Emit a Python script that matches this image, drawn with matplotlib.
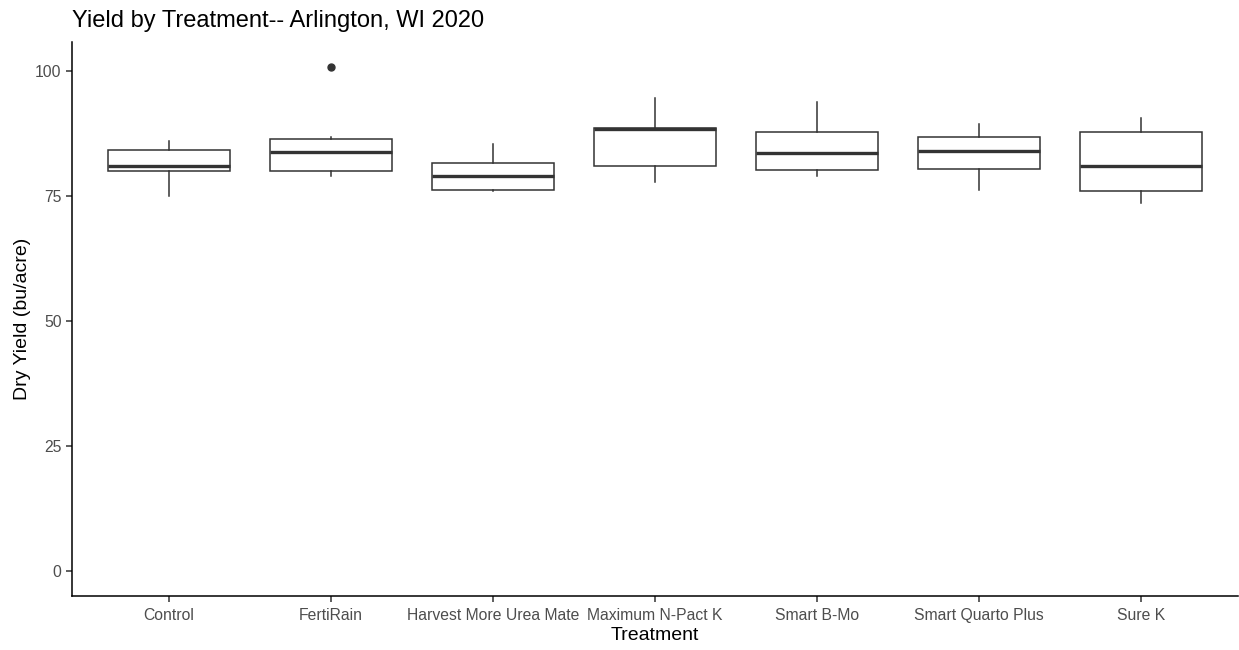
import matplotlib.pyplot as plt

# treatments and box stats (bu/acre)
treatments = ["Control", "FertiRain", "Harvest More Urea Mate", "Maximum N-Pact K",
              "Smart B-Mo", "Smart Quarto Plus", "Sure K"]
whislo = [75.0, 79.0, 76.0, 77.9, 79.0, 76.3, 73.7]
q1 = [80.1, 80.1, 76.3, 81.1, 80.3, 80.5, 76.1]
med = [81.0, 83.9, 79.1, 88.5, 83.6, 84.1, 81.0]
q3 = [84.2, 86.5, 81.7, 88.7, 87.9, 86.9, 87.9]
whishi = [86.0, 86.9, 85.4, 94.6, 93.8, 89.5, 90.7]
outliers = [[], [100.8], [], [], [], [], []]

plt.rcParams['font.family'] = ['Liberation Sans', 'DejaVu Sans']

fig = plt.figure(figsize=(12.39, 6.5), dpi=100)
ax = fig.add_axes([72 / 1239, 54 / 650, (1238 - 72) / 1239, (596 - 42) / 650])

stats = []
for i, name in enumerate(treatments):
    stats.append(dict(label=name, whislo=whislo[i], q1=q1[i], med=med[i],
                      q3=q3[i], whishi=whishi[i], fliers=outliers[i]))

ax.bxp(stats, positions=range(1, len(treatments) + 1), widths=0.75,
       showcaps=False, patch_artist=True,
       boxprops=dict(facecolor="white", edgecolor="#333333", linewidth=1.1),
       whiskerprops=dict(color="#333333", linewidth=1.1),
       medianprops=dict(color="#333333", linewidth=2.4, solid_capstyle="butt"),
       flierprops=dict(marker="o", markerfacecolor="#333333", markeredgecolor="#333333",
                       markersize=5))

ax.set_xlim(0.4, len(treatments) + 0.6)
ax.set_ylim(-5.04, 105.84)
ax.set_yticks([0, 25, 50, 75, 100])

for side in ["top", "right"]:
    ax.spines[side].set_visible(False)
for side in ["left", "bottom"]:
    ax.spines[side].set_linewidth(1.1)
    ax.spines[side].set_color("black")

ax.tick_params(axis="both", colors="#333333", length=4, width=1.1, labelsize=11.3,
               labelcolor="#4D4D4D")
ax.tick_params(axis="x", pad=4.5)
ax.set_xlabel("Treatment", fontsize=14, color="black", labelpad=3)
ax.set_ylabel("Dry Yield (bu/acre)", fontsize=14, color="black", labelpad=3)
ax.set_title("Yield by Treatment-- Arlington, WI 2020", fontsize=17, loc="left",
             x=0, pad=11)

fig.savefig("out.png", dpi=100)
